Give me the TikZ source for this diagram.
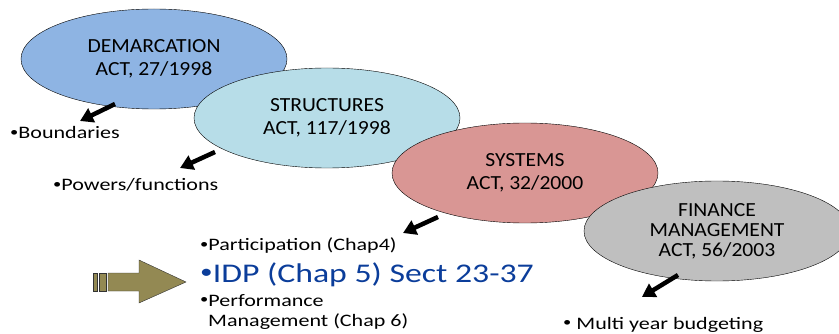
\documentclass[tikz,border=0pt]{standalone}
\usepackage{fontspec}
\setmainfont{Carlito}
\newfontfamily\actfont[FakeStretch=1.08]{Carlito}
\newfontfamily\notefont[FakeStretch=1.26]{Carlito}
\newfontfamily\idpfont[FakeStretch=1.25]{Carlito}
\usetikzlibrary{shapes.geometric,arrows.meta}
\definecolor{demblue}{HTML}{8EB4E3}
\definecolor{strblue}{HTML}{B7DDE8}
\definecolor{sysred}{HTML}{D99694}
\definecolor{fingray}{HTML}{BFBFBF}
\definecolor{olive}{HTML}{938953}
\definecolor{idpblue}{HTML}{0B3D9A}
\newcommand{\dotmark}{\raisebox{0.12em}{\scalebox{0.75}{•}}}
\begin{document}
\begin{tikzpicture}[x=1pt,y=-1pt,
  act/.style={ellipse,draw,thin,minimum width=266pt,minimum height=100pt,inner sep=0pt,align=center,
    font=\actfont\fontsize{20}{22.5}\selectfont},
  note/.style={anchor=base west,inner sep=0pt,font=\notefont\fontsize{17.5}{20}\selectfont},
  pointer/.style={line width=4.5pt,-{Triangle[length=13pt,width=15pt]}},
  bigarrow/.style={draw=black!80,thin,fill=olive}]
\useasboundingbox (0,0) rectangle (839,334);
% the four acts
\node[act,fill=demblue] (dem) at (154,59) {DEMARCATION\\ACT, 27/1998};
\node[act,fill=strblue] (str) at (327,118) {STRUCTURES\\ACT, 117/1998};
\node[act,fill=sysred] (sys) at (525,173) {SYSTEMS\\ACT, 32/2000};
\node[act,fill=fingray,font=\actfont\fontsize{20}{20}\selectfont] (fin) at (717,231)
  {FINANCE\\MANAGEMENT\\ACT, 56/2003};
% what each act brings
\node[note] (bound) at (10,139) {\dotmark Boundaries};
\node[note] (power) at (53,191) {\dotmark Powers/functions};
\node[note] (part) at (200,251) {\dotmark Participation (Chap4)};
\node[note,font=\idpfont\fontsize{27}{30}\selectfont,text=idpblue] (idp) at (200,282) {\dotmark IDP (Chap 5) Sect 23-37};
\node[note] (perf) at (200,306) {\dotmark Performance};
\node[note] (mgmt) at (208,326) {Management (Chap 6)};
\node[note] (multi) at (563,329) {\dotmark\ Multi year budgeting};
% pointers
\coordinate (t1) at (115,104); \coordinate (h1) at (80,121);
\coordinate (t2) at (215,152); \coordinate (h2) at (180,168);
\coordinate (t3) at (438,217); \coordinate (h3) at (403,233);
\coordinate (t4) at (678,275); \coordinate (h4) at (642,297);
\draw[pointer] (t1) -- (h1);
\draw[pointer] (t2) -- (h2);
\draw[pointer] (t3) -- (h3);
\draw[pointer] (t4) -- (h4);
% striped arrow
\draw[bigarrow] (93,273) rectangle (97,291);
\draw[bigarrow] (99.5,273) rectangle (106,291);
\draw[bigarrow] (108,273) -- (139,273) -- (139,260) -- (186,282) -- (139,303) -- (139,291) -- (108,291) -- cycle;
\end{tikzpicture}
\end{document}
